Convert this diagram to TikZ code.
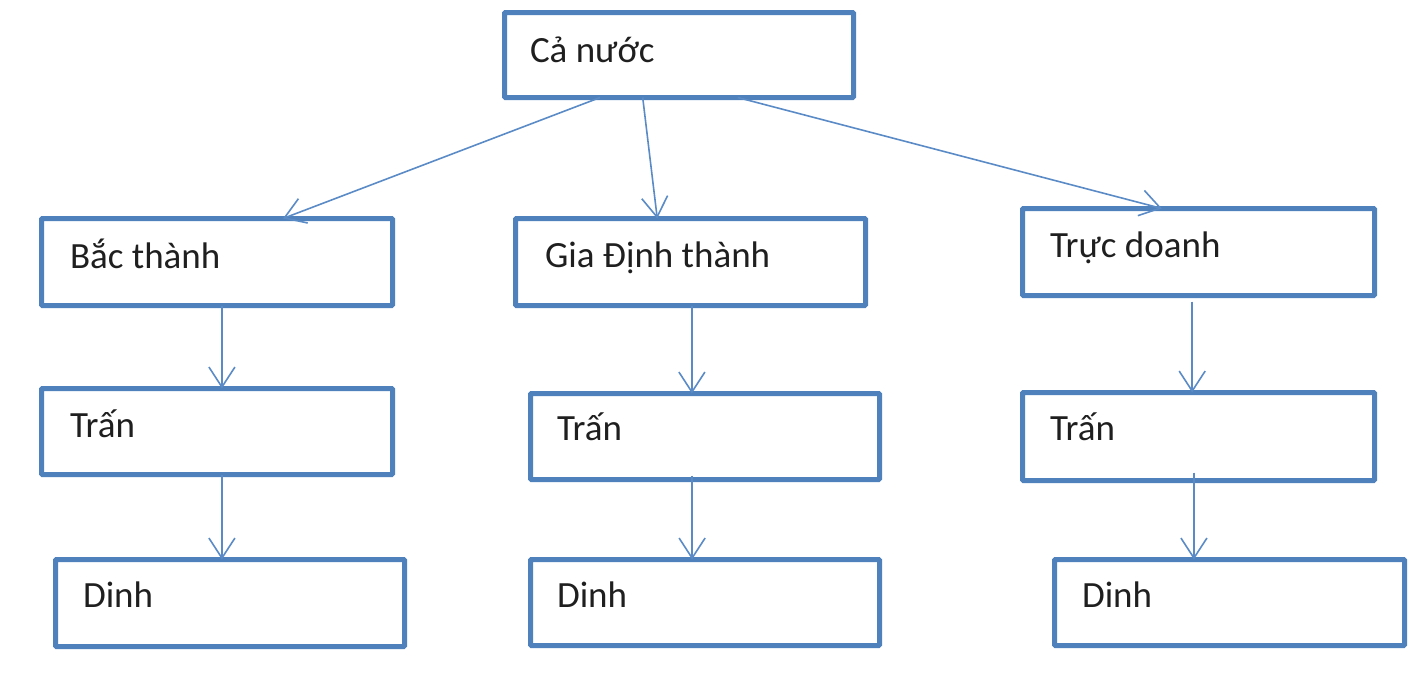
\documentclass[tikz,border=0pt]{standalone}
\usepackage{fontspec}
\setmainfont{Carlito}
\usetikzlibrary{arrows.meta,calc}
\definecolor{boxblue}{HTML}{4F81BD}
\definecolor{connblue}{HTML}{5A8BC6}
\begin{document}
\begin{tikzpicture}[x=1pt,y=-1pt,
  box/.style={draw=boxblue, line width=5pt, rectangle, inner sep=0pt, outer sep=0pt, rounded corners=1pt},
  lbl/.style={anchor=base west, inner sep=0pt, outer sep=0pt, text=black!88, font=\fontsize{37}{44}\selectfont},
  conn/.style={draw=connblue, line width=1.6pt, -{Straight Barb[length=20pt,width=26pt]}}]
\useasboundingbox (0,0) rectangle (1415,686);
% boxes
\node[box, minimum width=349pt, minimum height=85pt] (top) at (679,55) {};
\node[box, minimum width=351pt, minimum height=87pt] (b1) at (217,262) {};
\node[box, minimum width=350pt, minimum height=87pt] (b2) at (690.5,262) {};
\node[box, minimum width=352pt, minimum height=87pt] (b3) at (1198.5,252) {};
\node[box, minimum width=351pt, minimum height=86pt] (t1) at (217,431.5) {};
\node[box, minimum width=349pt, minimum height=86pt] (t2) at (705,436.5) {};
\node[box, minimum width=352pt, minimum height=88pt] (t3) at (1198.5,436.5) {};
\node[box, minimum width=349pt, minimum height=87pt] (d1) at (230,603) {};
\node[box, minimum width=349pt, minimum height=86pt] (d2) at (705,602.5) {};
\node[box, minimum width=350pt, minimum height=86pt] (d3) at (1229.5,602.5) {};
% labels
\node[lbl] (topt) at (530,62) {Cả nước};
\node[lbl] (b1t) at (70,268) {Bắc thành};
\node[lbl] (b2t) at (545,267) {Gia Định thành};
\node[lbl] (b3t) at (1050,257) {Trực doanh};
\node[lbl] (t1t) at (70,437) {Trấn};
\node[lbl] (t2t) at (557,440) {Trấn};
\node[lbl] (t3t) at (1050,440) {Trấn};
\node[lbl] (d1t) at (83,607) {Dinh};
\node[lbl] (d2t) at (557,607) {Dinh};
\node[lbl] (d3t) at (1082,607) {Dinh};
% connectors from top
\draw[conn] ($(top.south west)!0.274!(top.south east)$) -- ($(b1.north west)!0.688!(b1.north east)$);
\draw[conn] ($(top.south west)!0.396!(top.south east)$) -- ($(b2.north west)!0.405!(b2.north east)$);
\draw[conn] ($(top.south west)!0.668!(top.south east)$) -- ($(b3.north west)!0.396!(b3.north east)$);
% vertical connectors
\coordinate (p1) at ($(b1.south west)!0.514!(b1.south east)$);
\draw[conn] (p1) -- (p1 |- t1.north);
\coordinate (p2) at ($(t1.south west)!0.514!(t1.south east)$);
\draw[conn] (p2) -- (p2 |- d1.north);
\coordinate (p3) at ($(b2.south west)!0.504!(b2.south east)$);
\draw[conn] (p3) -- (p3 |- t2.north);
\coordinate (p4) at ($(t2.south west)!0.463!(t2.south east) + (0,-4)$);
\draw[conn] (p4) -- (p4 |- d2.north);
\coordinate (p5) at ($(b3.south west)!0.482!(b3.south east) + (0,6)$);
\draw[conn] (p5) -- (p5 |- t3.north);
\coordinate (p6) at ($(t3.south west)!0.487!(t3.south east) + (0,-8)$);
\draw[conn] (p6) -- (p6 |- d3.north);
\end{tikzpicture}
\end{document}
